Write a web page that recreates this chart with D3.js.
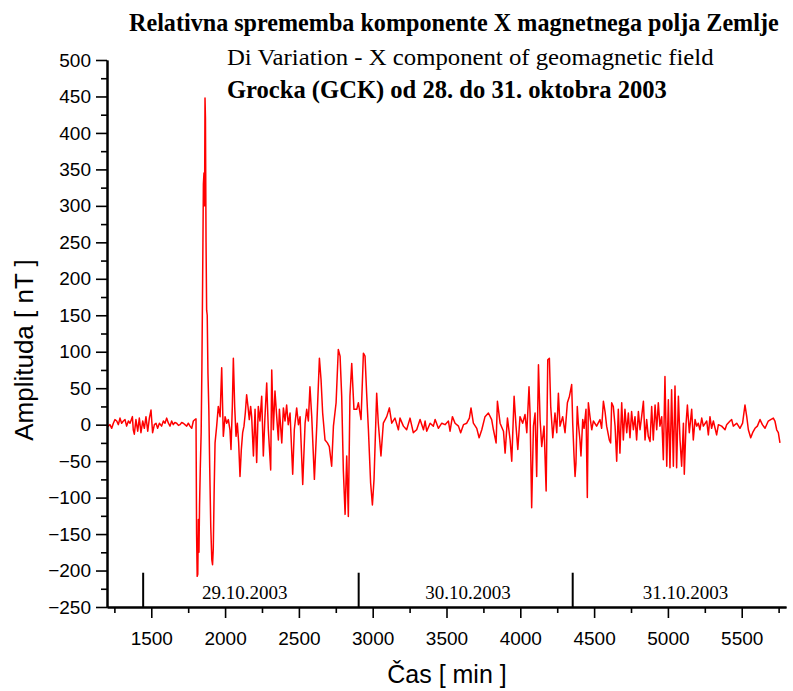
<!DOCTYPE html>
<html><head><meta charset="utf-8">
<script src="https://cdn.jsdelivr.net/npm/d3@7/dist/d3.min.js"></script>
<style>
html,body{margin:0;padding:0;background:#fff;}
svg{display:block;}
</style></head>
<body>
<svg id="chart" width="793" height="691"></svg>
<script>
// ---- data ----
const titleLines = [
  "Relativna sprememba komponente X magnetnega polja Zemlje",
  "Di Variation - X component of geomagnetic field",
  "Grocka (GCK) od 28. do 31. oktobra 2003"
];
const xTitle = "Čas [ min ]";
const yTitle = "Amplituda [ nT ]";

const xTicks = [1500, 2000, 2500, 3000, 3500, 4000, 4500, 5000, 5500];
const xMinorTicks = [1250, 1750, 2250, 2750, 3250, 3750, 4250, 4750, 5250, 5750];
const yTicks = [-250, -200, -150, -100, -50, 0, 50, 100, 150, 200, 250, 300, 350, 400, 450, 500];
const yMinorTicks = [-225, -175, -125, -75, -25, 25, 75, 125, 175, 225, 275, 325, 375, 425, 475];

const dayMarks = [1445, 2905, 4355];          // day boundary markers (min), as drawn
const dayMarkTop = -203;                       // amplitude level where markers end
const dayLabels = ["29.10.2003", "30.10.2003", "31.10.2003"];
const dayLabelPos = [2134, 3645, 5119];        // label centres (min)

const minutes = [
1200,1209,1220,1232,1243,1254,1266,1277,1288,1299,1311,1322,1333,1345,1356,1372,1378,1385,1396,1408,
1419,1430,1442,1453,1464,1476,1487,1498,1509,1521,1532,1543,1555,1570,1582,1593,1604,1616,1627,1638,
1649,1660,1672,1684,1695,1706,1717,1728,1740,1751,1762,1774,1785,1796,1803,
1807,1811,1815,1819,1823,1827,1832,1838,1843,1848,1853,1857,1861,1864,1867,1871,1875,1879,1884,1890,
1896,1903,1910,1915,1920,1926,1932,1943,
1954,1966,1977,1988,2000,2011,2022,2033,2040,2049,2056,2065,2074,2083,2092,2101,2110,2119,2128,2137,
2146,2155,2164,2173,
2180,2192,2203,2214,2225,2236,2248,2259,2270,2282,2293,2309,2316,2327,2338,2350,2361,2368,2384,2395,
2406,2417,2428,2440,2458,2469,2485,2497,2508,2526,2542,2553,2564,2575,2587,2605,2621,2639,2650,2661,
2677,2693,2706,2722,2734,2752,2767,2779,2790,2801,2813,2824,2835,2846,2858,2873,2892,2903,2921,2937,
2948,2959,2971,2986,2998,3009,3027,3038,3056,3072,3095,3113,3129,3151,3174,3185,3208,3230,3253,3275,
3298,
3321,3344,3355,3366,3389,3411,3423,3445,3468,3490,3513,3524,3540,3558,3581,3596,3615,3637,3655,3666,
3682,3705,3721,3739,3761,3784,3806,3818,3836,3845,3863,3886,3897,3913,3931,3942,3958,3971,3983,3998,
4016,4032,4044,4059,4066,4077,4089,4100,4111,4123,4134,4145,4161,4175,4186,4197,4206,4220,4235,4247,
4258,4269,4287,4303,4319,4333,
4348,4355,4364,4371,4377,4386,4393,4404,4411,4423,4432,4445,4454,4461,4472,4484,4495,4517,4540,4551,
4563,4574,4585,4603,4612,4619,4630,4642,4653,4664,4675,4687,4698,4709,4721,4732,4743,4754,4766,4777,
4788,4800,4811,4822,4834,4845,4856,4867,4879,4890,4901,4913,4924,4935,4946,4958,4969,4980,4992,5003,
5014,5025,5037,5048,5059,5071,5082,
5093,5105,5111,5123,5132,5145,5161,5172,5184,5195,5206,5217,5229,5240,5263,5274,5285,5296,5308,5330,
5342,5364,5387,5398,5421,5432,5443,5466,5488,5506,5522,5534,5545,5561,5574,5590,5606,5624,5640,5658,
5680,5696,5714,5725,5737,5748,5759
];
const amplitude = [
0,-2,0,-5,2,7,5,0,9,2,5,7,-2,5,2,11,-7,-13,7,-9,
9,-11,5,-5,11,-9,9,20,-11,0,2,-5,2,-2,5,2,9,2,-2,5,
0,3,2,-1,0,3,2,0,-2,2,-2,-5,5,7,8,
-150,-208,-205,-130,-175,-110,-60,-10,80,200,330,345,300,448,420,250,157,150,70,20,
-60,-140,-185,-192,-170,-90,-25,-2,
25,11,78,-16,11,2,7,-7,-34,25,91,25,-16,2,-25,-71,-34,-11,-2,16,
41,25,7,25,
11,-43,21,-52,25,5,39,-43,10,57,-7,-62,75,-7,46,10,-21,21,-25,23,
5,27,0,16,-68,-7,23,0,11,-82,2,21,5,52,11,-75,-2,91,62,16,
-21,-25,-30,-57,-2,30,103,94,39,-62,-123,-43,-126,39,84,21,21,30,7,98,
94,43,-7,-80,-110,-75,43,2,-43,2,11,23,2,9,-7,9,-2,-7,9,-11,
-7,
7,-7,5,-9,2,-2,7,-5,2,0,5,-9,11,2,-2,-11,0,2,9,23,
2,-5,-18,-7,11,16,7,-7,-25,32,2,-9,-39,9,-21,-50,39,-2,-34,11,
2,14,-11,52,16,-114,-2,16,-71,82,7,-30,-2,-91,89,91,25,-18,16,-11,
43,-2,11,-11,30,39,
55,2,-43,-71,-53,25,2,-21,-43,7,-5,21,-100,30,11,-7,5,-2,7,-5,
32,18,-2,-21,-25,30,25,-2,-50,21,-39,30,-21,21,-11,16,-18,18,-7,11,
-21,18,-7,11,32,-21,7,-16,-23,25,-21,27,-7,30,-2,11,-48,66,-57,34,
-59,48,-57,53,-59,39,-21,
-57,2,-68,2,27,-11,21,-21,7,-2,2,-7,9,-2,5,-14,11,-5,5,-14,
0,-2,-7,0,5,7,-2,2,-5,2,27,11,-7,-18,-11,-5,-2,7,0,-5,
5,7,9,5,-7,-11,-25
];

// ---- layout ----
const svg = d3.select("#chart");
const plotL = 107, plotR = 786, plotT = 60, plotB = 607;
const x = d3.scaleLinear().domain([1200, 5800]).range([plotL, plotR]);
const y = d3.scaleLinear().domain([-250, 500]).range([plotB, plotT]);

const sans = "'Liberation Sans', Arial, sans-serif";
const serif = "'Liberation Serif', 'Times New Roman', serif";

// titles (horizontally condensed to the reference widths)
const titleSpecs = [
  {x: 129, y: 31, size: 25, weight: "bold", w: 650},
  {x: 227, y: 65, size: 23, weight: "normal", w: 487},
  {x: 227, y: 98, size: 25, weight: "bold", w: 440}
];
titleLines.forEach((t, i) => {
  const s = titleSpecs[i];
  const g = svg.append("g");
  const txt = g.append("text").attr("x", 0).attr("y", 0)
    .attr("font-family", serif).attr("font-size", s.size).attr("font-weight", s.weight)
    .attr("fill", "#000").text(t);
  const natural = txt.node().getComputedTextLength() || s.w;
  g.attr("transform", `translate(${s.x},${s.y}) scale(${s.w / natural},1)`);
});

// data line
const n = Math.min(minutes.length, amplitude.length);
const pts = d3.range(n).map(i => [minutes[i], amplitude[i]]);
const line = d3.line().x(d => x(d[0])).y(d => y(d[1]));
svg.append("path").datum(pts)
  .attr("d", line).attr("fill", "none")
  .attr("stroke", "#f00").attr("stroke-width", 1.5).attr("stroke-linejoin", "round");

// axes
function styleAxis(g) {
  g.selectAll("path.domain").attr("stroke", "#000").attr("stroke-width", 2);
  g.selectAll(".tick line").attr("stroke", "#000").attr("stroke-width", 1.6);
  g.selectAll(".tick text").attr("font-family", sans).attr("font-size", 19).attr("fill", "#000");
}
const yAxisMinor = svg.append("g").attr("transform", `translate(${plotL},0)`)
  .call(d3.axisLeft(y).tickValues(yMinorTicks).tickSize(6).tickSizeOuter(0).tickFormat(""));
styleAxis(yAxisMinor);
const yAxis = svg.append("g").attr("transform", `translate(${plotL},0)`)
  .call(d3.axisLeft(y).tickValues(yTicks).tickSize(11).tickSizeOuter(0).tickPadding(5).tickFormat(d3.format("d")));
styleAxis(yAxis);

const xAxisMinor = svg.append("g").attr("transform", `translate(0,${plotB})`)
  .call(d3.axisBottom(x).tickValues(xMinorTicks).tickSize(6).tickSizeOuter(0).tickFormat(""));
styleAxis(xAxisMinor);
const xAxis = svg.append("g").attr("transform", `translate(0,${plotB})`)
  .call(d3.axisBottom(x).tickValues(xTicks).tickSize(11).tickSizeOuter(0).tickPadding(14).tickFormat(d3.format("d")));
styleAxis(xAxis);

// day markers
svg.append("g").selectAll("line").data(dayMarks).join("line")
  .attr("x1", d => x(d)).attr("x2", d => x(d))
  .attr("y1", y(dayMarkTop)).attr("y2", y(-250))
  .attr("stroke", "#000").attr("stroke-width", 2);
svg.append("g").selectAll("text").data(dayLabels).join("text")
  .attr("x", (d, i) => x(dayLabelPos[i])).attr("y", 599)
  .attr("text-anchor", "middle").attr("font-family", serif).attr("font-size", 19)
  .attr("fill", "#000").text(d => d);

// axis titles
svg.append("text").attr("x", 447).attr("y", 683).attr("text-anchor", "middle")
  .attr("font-family", sans).attr("font-size", 25).attr("fill", "#000").text(xTitle);
svg.append("text").attr("transform", "translate(33,350) rotate(-90)").attr("text-anchor", "middle")
  .attr("font-family", sans).attr("font-size", 26).attr("fill", "#000").text(yTitle);
</script>
</body></html>
